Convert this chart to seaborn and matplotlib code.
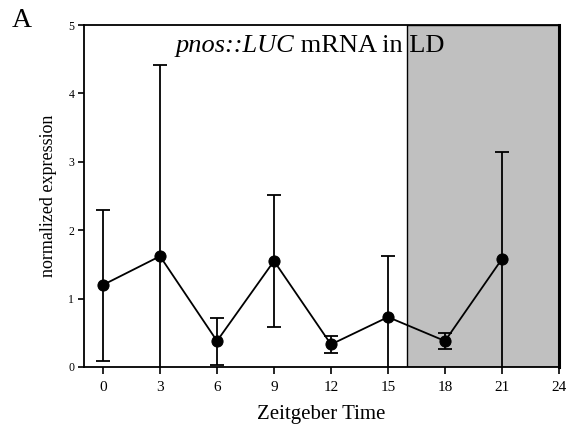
import numpy as np
import pandas as pd
import matplotlib
matplotlib.use("Agg")
import matplotlib.pyplot as plt
import seaborn as sns

# values
zt = [0, 3, 6, 9, 12, 15, 18, 21]
expr = [1.20, 1.62, 0.38, 1.55, 0.33, 0.73, 0.38, 1.58]
err_lo = [1.11, 2.80, 0.35, 0.97, 0.12, 0.89, 0.11, 1.62]
err_hi = [1.10, 2.80, 0.34, 0.97, 0.12, 0.89, 0.12, 1.57]
dark_start, dark_end = 16, 24
xticks = [0, 3, 6, 9, 12, 15, 18, 21, 24]

sns.set_style("white")
plt.rcParams["font.family"] = ["Liberation Serif", "DejaVu Serif"]
plt.rcParams["text.color"] = "black"
plt.rcParams["axes.labelcolor"] = "black"
plt.rcParams["xtick.color"] = "black"
plt.rcParams["ytick.color"] = "black"

df = pd.DataFrame({"ZT": zt, "expr": expr})

fig = plt.figure(figsize=(5.7, 4.32), dpi=100)
ax = fig.add_axes([0.1474, 0.1505, 0.8333, 0.7915])

ax.axvspan(dark_start, dark_end, facecolor="#c0c0c0", edgecolor="black", lw=1.0, zorder=0)

ax.errorbar(zt, expr, yerr=[err_lo, err_hi], fmt="none", ecolor="black",
            elinewidth=1.3, capsize=5, capthick=1.3, zorder=2)
sns.lineplot(data=df, x="ZT", y="expr", color="black", lw=1.3, marker="o",
             markersize=8, markeredgecolor="black", ax=ax, zorder=3)

ax.set_xlim(-1, 24)
ax.set_ylim(0, 5)
ax.set_xticks(xticks)
ax.set_yticks([0, 1, 2, 3, 4, 5])
ax.tick_params(axis="x", direction="out", length=5, width=1.2, labelsize=11, pad=5, bottom=True)
ax.tick_params(axis="y", direction="out", length=4, width=1.2, labelsize=8.5, pad=3, left=True)
for sp in ax.spines.values():
    sp.set_linewidth(1.3)
    sp.set_color("black")
ax.spines["right"].set_linewidth(2.2)

ax.set_xlabel("Zeitgeber Time", fontsize=15, labelpad=8)
ax.set_ylabel("normalized expression", fontsize=13, labelpad=8)

# title: italic construct name + upright rest
t1 = ax.text(0.0, 0.0, "pnos::LUC", fontsize=19, fontstyle="italic",
             transform=fig.transFigure, va="baseline")
t2 = ax.text(0.0, 0.0, " mRNA in LD", fontsize=19,
             transform=fig.transFigure, va="baseline")
fig.canvas.draw()
r = fig.canvas.get_renderer()
w1 = t1.get_window_extent(r).width
w2 = t2.get_window_extent(r).width
cx = 310.0
base_y = 432 - 52
x0 = cx - (w1 + w2) / 2
t1.set_position((x0 / 570, base_y / 432))
t2.set_position(((x0 + w1) / 570, base_y / 432))

fig.text(0.021, 0.9525, "A", fontsize=20, ha="left", va="center")

fig.savefig("out.png", dpi=100)
